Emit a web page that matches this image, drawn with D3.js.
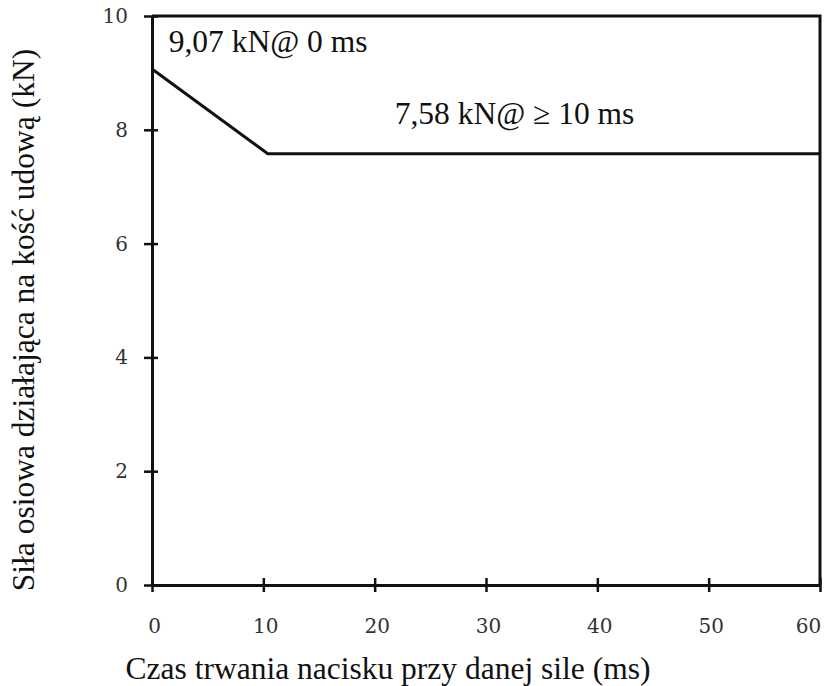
<!DOCTYPE html>
<html>
<head>
<meta charset="utf-8">
<script src="https://cdn.jsdelivr.net/npm/d3@7"></script>
<style>
  body { margin: 0; background: #fff; }
</style>
</head>
<body>
<div id="chart"></div>
<script>
// data
var czas = [0, 10.4, 60];          // ms
var sila = [9.07, 7.58, 7.58];     // kN
var xTicks = [0, 10, 20, 30, 40, 50, 60];
var yTicks = [0, 2, 4, 6, 8, 10];
var notes = [
  { x: 1.5, y: 9.37, text: "9,07 kN@ 0 ms" },
  { x: 21.8, y: 8.1, text: "7,58 kN@ \u2265 10 ms" }
];

var serif = "'Liberation Serif', 'Times New Roman', Times, serif";
var tickFont = "'DejaVu Serif', 'Liberation Serif', serif";

var svgWidth = 824, svgHeight = 686,
    margin = { top: 16, right: 4, bottom: 101, left: 152 },
    width = svgWidth - margin.left - margin.right,
    height = svgHeight - margin.top - margin.bottom;

var svg = d3.select("#chart").append("svg")
    .attr("width", svgWidth)
    .attr("height", svgHeight);

var g = svg.append("g")
    .attr("transform", "translate(" + margin.left + "," + margin.top + ")");

var x = d3.scaleLinear().domain([0, 60]).range([0, width]);
var y = d3.scaleLinear().domain([0, 10]).range([height, 0]);

// frame top + right
g.append("path")
    .attr("d", "M0," + y(10) + "H" + x(60) + "V" + y(0))
    .attr("fill", "none")
    .attr("stroke", "#111")
    .attr("stroke-width", 3);

// x axis (ticks cross the line)
var xAxis = g.append("g")
    .attr("transform", "translate(0," + height + ")")
    .call(d3.axisBottom(x).tickValues(xTicks).tickSize(0).tickPadding(34));
xAxis.select(".domain").attr("stroke", "#111").attr("stroke-width", 3);
xAxis.selectAll(".tick").append("line")
    .attr("y1", -7).attr("y2", 7)
    .attr("stroke", "#111").attr("stroke-width", 2.5);
xAxis.selectAll(".tick text")
    .attr("font-family", tickFont).attr("font-size", 20).attr("fill", "#333")
    .attr("dx", function (d) { return d == 60 ? -12 : 2; });

// y axis
var yAxis = g.append("g")
    .call(d3.axisLeft(y).tickValues(yTicks).tickSize(0).tickPadding(24));
yAxis.select(".domain").attr("stroke", "#111").attr("stroke-width", 3);
yAxis.selectAll(".tick").append("line")
    .attr("x1", -8).attr("x2", 6)
    .attr("stroke", "#111").attr("stroke-width", 2.5);
yAxis.selectAll(".tick text")
    .attr("font-family", tickFont).attr("font-size", 20).attr("fill", "#333");

// data line
var line = d3.line()
    .x(function (d, i) { return x(czas[i]); })
    .y(function (d) { return y(d); });

g.append("path")
    .datum(sila)
    .attr("d", line)
    .attr("fill", "none")
    .attr("stroke", "#111")
    .attr("stroke-width", 3);

// annotations
g.selectAll(".note")
    .data(notes)
    .enter().append("text")
    .attr("class", "note")
    .attr("x", function (d) { return x(d.x); })
    .attr("y", function (d) { return y(d.y); })
    .attr("font-family", serif)
    .attr("font-size", 31.5)
    .attr("fill", "#111")
    .text(function (d) { return d.text; });

// axis titles
svg.append("text")
    .attr("x", 388)
    .attr("y", 679)
    .attr("text-anchor", "middle")
    .attr("font-family", serif)
    .attr("font-size", 31.5)
    .attr("fill", "#111")
    .text("Czas trwania nacisku przy danej sile (ms)");

svg.append("text")
    .attr("transform", "translate(34,320) rotate(-90)")
    .attr("text-anchor", "middle")
    .attr("font-family", serif)
    .attr("font-size", 31.5)
    .attr("fill", "#111")
    .text("Siła osiowa działająca na kość udową (kN)");
</script>
</body>
</html>
